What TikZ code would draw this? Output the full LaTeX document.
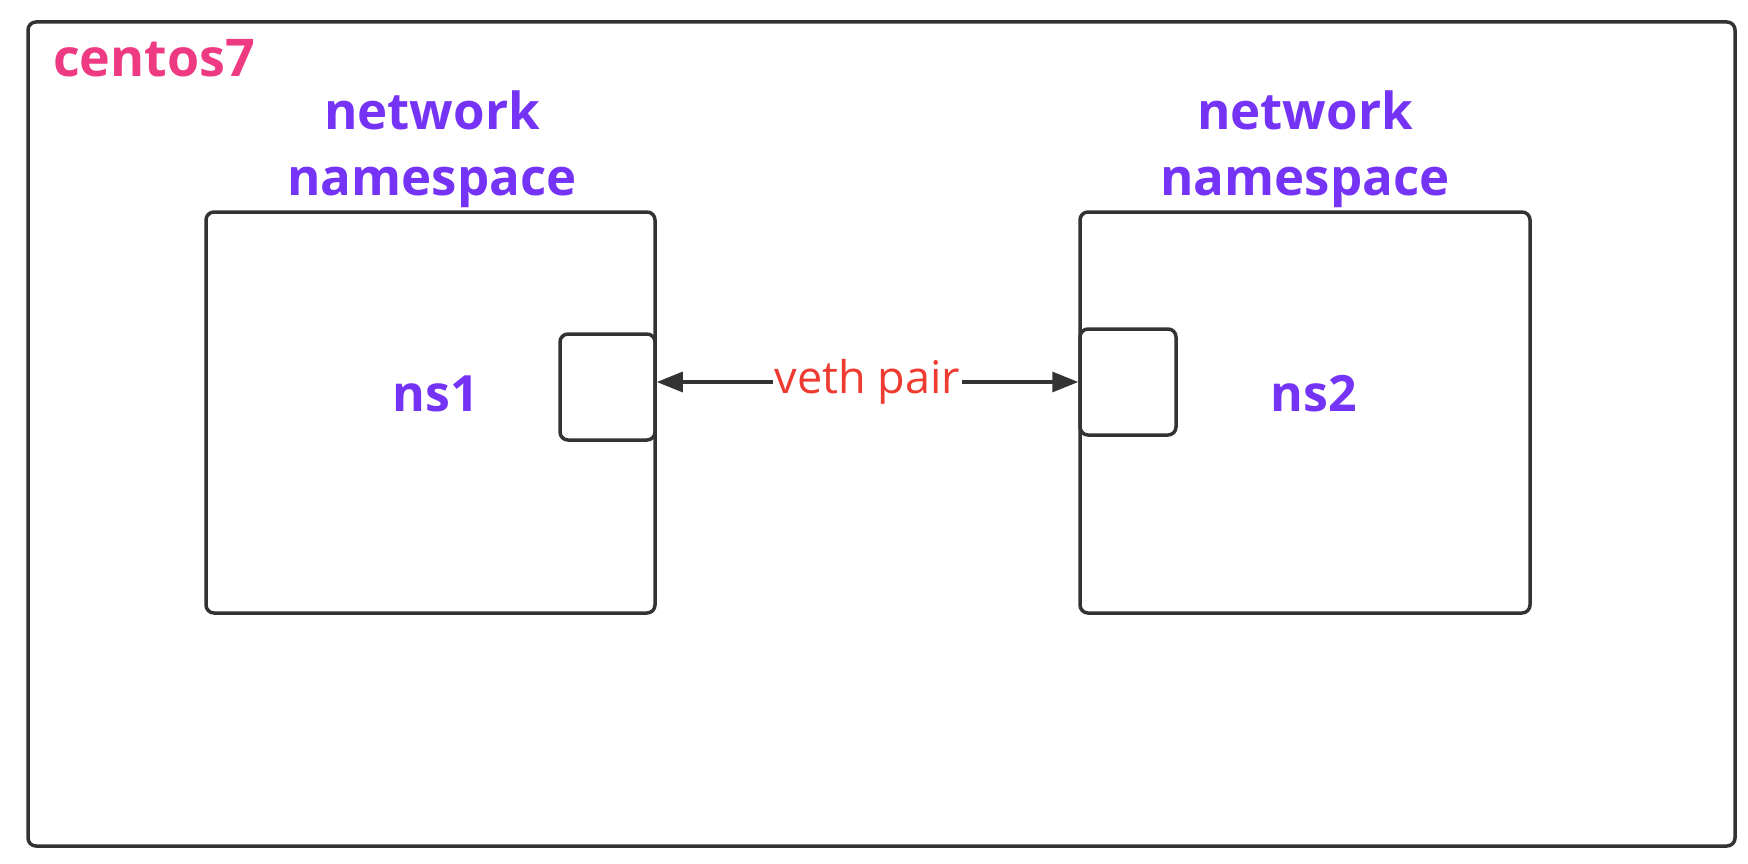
\documentclass[tikz,border=0pt]{standalone}
\usepackage{fontspec}
\setmainfont{Open Sans}
\usetikzlibrary{arrows.meta}
\definecolor{boxline}{HTML}{333333}
\definecolor{nspurple}{HTML}{7433F5}
\definecolor{hostpink}{HTML}{EE3A82}
\definecolor{vethred}{HTML}{EE3A30}
\begin{document}
\begin{tikzpicture}[x=1pt,y=-1pt,
  frame/.style={draw=boxline, line width=3.5pt, rounded corners=8pt, inner sep=0pt},
  nstitle/.style={font=\fontsize{51}{66}\selectfont\bfseries, text=nspurple, align=center, inner sep=0pt},
  nsname/.style={font=\fontsize{50}{60}\selectfont\bfseries, text=nspurple, inner sep=0pt},
  vethlink/.style={draw=boxline, line width=3.2pt, {Triangle[length=26pt,width=20pt]}-{Triangle[length=26pt,width=20pt]}},
]
\useasboundingbox (0,0) rectangle (1748,864);
\node[frame, minimum width=1707pt, minimum height=824pt] (host) at (881.5,434) {};
\node[font=\fontsize{52}{60}\selectfont\bfseries, text=hostpink, anchor=west, inner sep=0pt] (hostlabel) at (53,58) {centos7};
\node[frame, minimum width=449pt, minimum height=401pt] (ns1box) at (430.5,412.5) {};
\node[frame, minimum width=450pt, minimum height=401pt] (ns2box) at (1305,412.5) {};
\node[nstitle] (ns1title) at (432,149) {network\\namespace};
\node[nstitle] (ns2title) at (1305,149) {network\\namespace};
\node[nsname] (ns1) at (436,394) {ns1};
\node[nsname] (ns2) at (1314,394) {ns2};
\node[frame, minimum width=95pt, minimum height=106pt] (port1) at (607.5,387) {};
\node[frame, minimum width=96pt, minimum height=106pt] (port2) at (1128,382) {};
\draw[vethlink] (port1.east |- port2.west) -- node[fill=white, inner sep=2pt, text=vethred, font=\fontsize{45}{50}\selectfont] (veth) {veth pair} (port2.west);
\end{tikzpicture}
\end{document}
